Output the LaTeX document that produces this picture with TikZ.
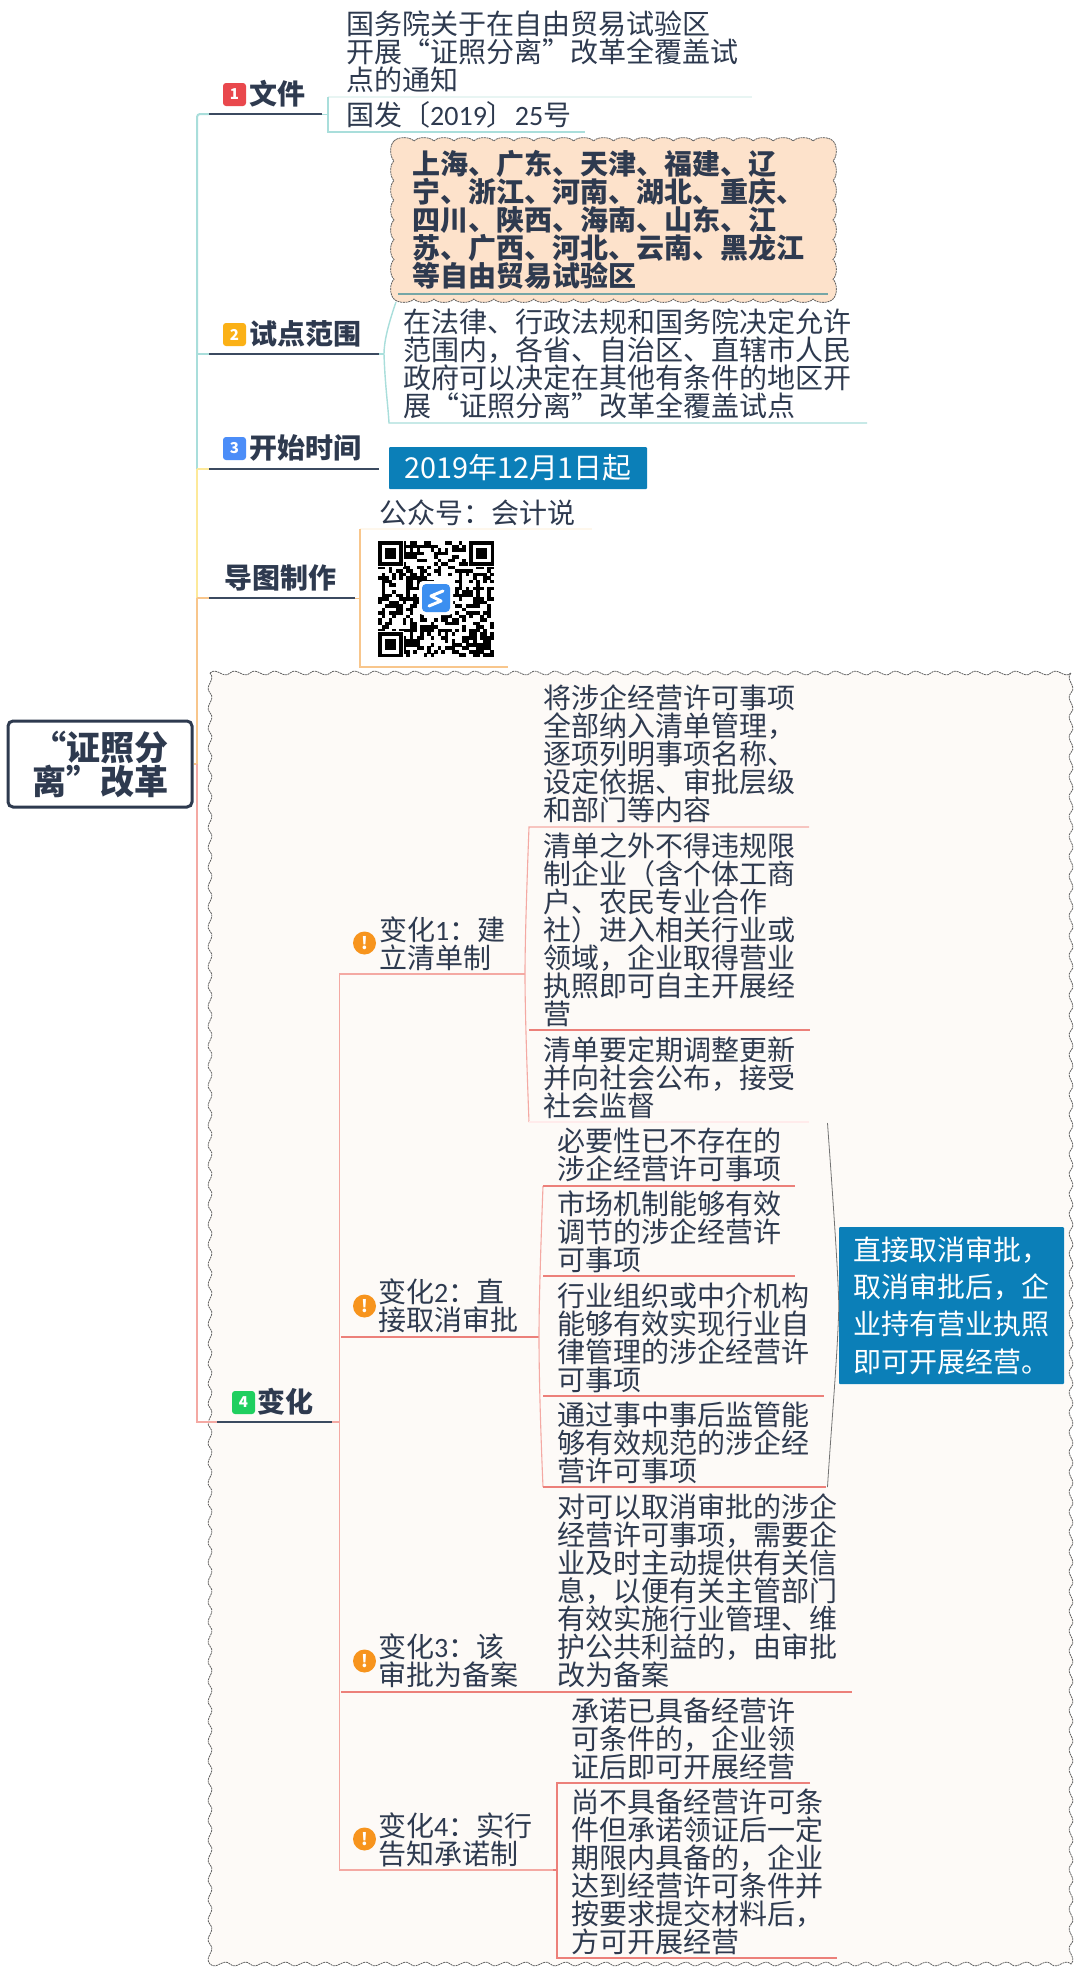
\documentclass[tikz,border=0pt]{standalone}
\usepackage{fontspec}
\setmainfont{Noto Sans CJK SC}
\newfontfamily\dg{Carlito}
\lineskiplimit=-100pt
\newcommand{\zcm}{^^^^ff0c}
\newcommand{\zcl}{^^^^ff1a}
\newcommand{\zlp}{^^^^ff08}
\newcommand{\zrp}{^^^^ff09}
\newcommand{\ml}[1]{\vtop{\halign{##\hfil\cr#1\crcr}}}
\newcommand{\mr}[1]{\vbox{\halign{\hfil##\cr#1\crcr}}}
\definecolor{ink}{HTML}{2E3A4F}
\definecolor{dark}{HTML}{3B4A60}
\definecolor{tealc}{HTML}{A9DEDB}
\definecolor{tealf}{HTML}{E8F5F3}
\definecolor{yell}{HTML}{FDE99A}
\definecolor{orng}{HTML}{F8C68C}
\definecolor{orgf}{HTML}{FEF7EC}
\definecolor{pinkc}{HTML}{F4A9A3}
\definecolor{redc}{HTML}{EC807A}
\definecolor{blueb}{HTML}{0B7FB8}
\definecolor{zonef}{HTML}{FDE2CB}
\definecolor{framef}{HTML}{FDFAF7}
\definecolor{warnc}{HTML}{F7941D}
\definecolor{ic1}{HTML}{E9484D}
\definecolor{ic2}{HTML}{FBB116}
\definecolor{ic3}{HTML}{4B8DF8}
\definecolor{ic4}{HTML}{1FCF5F}
\definecolor{logoc}{HTML}{3C8FF0}
\tikzset{
  txt/.style={anchor=base west,inner sep=0pt,text=ink,font=\fontsize{28pt}{28pt}\selectfont},
  head/.style={txt,font=\fontsize{28pt}{28pt}\selectfont\bfseries},
  uline/.style={draw=dark,line width=2.5pt},
  tl/.style={draw=tealc,line width=2pt},
  pl/.style={draw=pinkc,line width=1.6pt},
  rl/.style={draw=redc,line width=1.3pt},
  numbox/.style={rectangle,rounded corners=3pt,inner sep=0pt,minimum width=23pt,minimum height=23pt,text=white,font=\fontsize{15pt}{15pt}\selectfont\bfseries},
  warn/.style={circle,fill=warnc,inner sep=0pt,minimum size=23pt,text=white,font=\fontsize{17pt}{17pt}\selectfont\bfseries},
  bluebox/.style={rectangle,fill=blueb,inner sep=0pt,rounded corners=1pt,text=white},
  edge/.style={draw=black!62,line width=0.8pt,dash pattern=on 2pt off 0.7pt},
}
\begin{document}
\begin{tikzpicture}[x=1pt,y=-1pt]
\path[use as bounding box,fill=white] (0,0) rectangle (1080,1974);
% wavy frame
\pgfmathsetmacro{\wx}{861/43}
\pgfmathsetmacro{\wy}{1291/65}
\filldraw[edge,fill=framef] (210,673)
  \foreach \i in {1,...,43}{ .. controls ({210+(\i-1)*\wx+0.35*\wx},666.5) and ({210+(\i-1)*\wx+0.65*\wx},679.5) .. ({210+\i*\wx},673) }
  \foreach \i in {1,...,65}{ .. controls (1064.5,{673+(\i-1)*\wy+0.35*\wy}) and (1077.5,{673+(\i-1)*\wy+0.65*\wy}) .. (1071,{673+\i*\wy}) }
  \foreach \i in {1,...,43}{ .. controls ({1071-(\i-1)*\wx-0.35*\wx},1957.5) and ({1071-(\i-1)*\wx-0.65*\wx},1970.5) .. ({1071-\i*\wx},1964) }
  \foreach \i in {1,...,65}{ .. controls (203.5,{1964-(\i-1)*\wy-0.35*\wy}) and (216.5,{1964-(\i-1)*\wy-0.65*\wy}) .. (210,{1964-\i*\wy}) }
  -- cycle;
% scalloped box
\pgfmathsetmacro{\sx}{439/22}
\pgfmathsetmacro{\sy}{158/8}
\filldraw[edge,fill=zonef] (394,141)
  \foreach \i in {1,...,22}{ .. controls ({394+(\i-1)*\sx+0.2*\sx},136.5) and ({394+(\i-1)*\sx+0.8*\sx},136.5) .. ({394+\i*\sx},141) }
  \foreach \i in {1,...,8}{ .. controls (837.5,{141+(\i-1)*\sy+0.2*\sy}) and (837.5,{141+(\i-1)*\sy+0.8*\sy}) .. (833,{141+\i*\sy}) }
  \foreach \i in {1,...,22}{ .. controls ({833-(\i-1)*\sx-0.2*\sx},303.5) and ({833-(\i-1)*\sx-0.8*\sx},303.5) .. ({833-\i*\sx},299) }
  \foreach \i in {1,...,8}{ .. controls (389.5,{299-(\i-1)*\sy-0.2*\sy}) and (389.5,{299-(\i-1)*\sy-0.8*\sy}) .. (394,{299-\i*\sy}) }
  -- cycle;
% coordinates
\coordinate (s1) at (197,114);
\coordinate (s2) at (197,354);
\coordinate (s3) at (197,469);
\coordinate (s4) at (197,598);
\coordinate (sp) at (197,764);
\coordinate (s5) at (197,1422);
\coordinate (t1l) at (209,114); \coordinate (t1r) at (322,114);
\coordinate (t2l) at (209,354); \coordinate (t2r) at (379,354);
\coordinate (t3l) at (209,469); \coordinate (t3r) at (379,469);
\coordinate (t4l) at (209,598); \coordinate (t4r) at (355,598);
\coordinate (t5l) at (217,1422); \coordinate (t5r) at (332,1422);
\coordinate (b1) at (328,114);
\coordinate (b2) at (384,354);
\coordinate (b4) at (360,598);
\coordinate (b5) at (339.5,1422);
% root node
\node[rectangle,rounded corners=5pt,draw=ink,line width=3pt,fill=white,inner sep=0pt,minimum width=184pt,minimum height=86pt,text=ink,font=\fontsize{34pt}{34pt}\selectfont\bfseries] (root) at (100,764) {\raisebox{-2pt}{\mr{“证照分\cr 离”改革}}};
% spine
\draw[tl,rounded corners=3pt] (t1l) -- (s1) -- (s2);
\draw[tl] (s2) -- (t2l);
\draw[tl] (s2) -- (s3);
\draw[draw=yell,line width=2pt] (s3) -- (t3l);
\draw[draw=yell,line width=2pt] (s3) -- (s4);
\draw[draw=orng,line width=2pt] (s4) -- (t4l);
\draw[draw=orng,line width=2pt] (s4) -- (sp);
\draw[draw=orng,line width=2pt] (root.east) -- (sp);
\draw[draw=pinkc,line width=2pt] (sp) -- (s5) -- (t5l);
% topic underlines
\draw[uline] (t1l) -- (t1r);
\draw[uline] (t2l) -- (t2r);
\draw[uline] (t3l) -- (t3r);
\draw[uline] (t4l) -- (t4r);
\draw[uline] (t5l) -- (t5r);
% file branch
\coordinate (a1) at (328,97); \coordinate (a2) at (752,97);
\coordinate (a3) at (328,132); \coordinate (a4) at (585,132);
\draw[draw=tealf,line width=1.2pt] (a1) -- (a2);
\draw[draw=tealc,line width=1.4pt] (a1) -- (a3) -- (a4);
\draw[draw=tealc,line width=1pt] (t1r) -- (b1);
% scope branch
\coordinate (c1) at (396,302); \coordinate (c2) at (389,423); \coordinate (c3) at (867,423);
\coordinate (c4) at (398,294); \coordinate (c5) at (828,294);
\draw[draw=tealc,line width=1.4pt] (t2r) -- (b2);
\draw[draw=tealc,line width=1.4pt] (c1) .. controls (388,325) and (384,342) .. (b2) .. controls (385,385) and (388,405) .. (c2) -- (c3);
\draw[draw=teal!55!gray!70!white,line width=2pt] (c4) -- (c5);
% qr branch
\coordinate (q1) at (360,529); \coordinate (q2) at (592,529);
\coordinate (q3) at (360,667); \coordinate (q4) at (508,667);
\draw[draw=orng,line width=1pt] (t4r) -- (b4);
\draw[draw=orgf,line width=1.2pt] (q1) -- (q2);
\draw[draw=orng,line width=1.5pt] (q1) -- (q3) -- (q4);
% sub spine
\coordinate (v1l) at (341,974); \coordinate (v1r) at (525,974);
\coordinate (v2l) at (341,1337); \coordinate (v2r) at (539,1337);
\coordinate (v3l) at (341,1692); \coordinate (v3r) at (852,1692);
\coordinate (v4l) at (341,1870); \coordinate (v4r) at (553,1870);
\coordinate (v1t) at (339.5,974); \coordinate (v4b) at (339.5,1870);
\draw[pl] (t5r) -- (b5);
\draw[pl] (v1r) -- (v1t) -- (v4b) -- (v4r);
\draw[rl] (v2l) -- (v2r);
\draw[rl] (v3l) -- (v3r);
% change 1 children
\coordinate (d1) at (529,827); \coordinate (d1e) at (809,827);
\coordinate (d2) at (529,1030); \coordinate (d2e) at (810,1030);
\coordinate (d3) at (529,1122); \coordinate (d3e) at (809,1122);
\draw[pl,line width=1.1pt] (d1e) -- (d1) .. controls (527,880) and (525,940) .. (v1r) .. controls (525,1010) and (527,1070) .. (d3);
\draw[rl] (d2) -- (d2e);
\draw[draw=red!8!white,line width=1.2pt] (d3) -- (d3e);
% change 2 children
\coordinate (e1) at (543,1186); \coordinate (e1e) at (795,1186);
\coordinate (e2) at (543,1276); \coordinate (e2e) at (795,1276);
\coordinate (e3) at (543,1396); \coordinate (e3e) at (824,1396);
\coordinate (e4) at (543,1487); \coordinate (e4e) at (826,1487);
\draw[pl,line width=1.1pt] (e1) .. controls (541,1240) and (539,1300) .. (v2r) .. controls (539,1380) and (541,1440) .. (e4);
\draw[rl] (e1) -- (e1e);
\draw[rl] (e2) -- (e2e);
\draw[rl] (e3) -- (e3e);
\draw[rl] (e4) -- (e4e);
% change 4 children
\coordinate (f1) at (557,1783); \coordinate (f1e) at (810,1783);
\coordinate (f2) at (557,1958); \coordinate (f2e) at (837,1958);
\draw[rl] (f1e) -- (f1) -- (f2) -- (f2e);
\draw[rl] (v4r) -- ++(4,0);
% icons
\node[numbox,fill=ic1] (n1) at (234.5,94.5) {1};
\node[numbox,fill=ic2] (n2) at (234.5,334.5) {2};
\node[numbox,fill=ic3] (n3) at (234.5,448.5) {3};
\node[numbox,fill=ic4] (n4) at (243.5,1402.5) {4};
\node[warn] (w1) at (364.5,943) {!};
\node[warn] (w2) at (364.5,1306) {!};
\node[warn] (w3) at (364.5,1661) {!};
\node[warn] (w4) at (364.5,1839) {!};
% headings
\node[head] (h1) at (249,104.6) {文件};
\node[head] (h2) at (249,344.6) {试点范围};
\node[head] (h3) at (249,458.6) {开始时间};
\node[head] (h4) at (224,588.6) {导图制作};
\node[head] (h5) at (257.5,1412.6) {变化};
% file texts
\node[txt] (x1) at (346,34.6) {\ml{国务院关于在自由贸易试验区\cr 开展“证照分离”改革全覆盖试\cr 点的通知}};
\node[txt] (x2) at (346,125.6) {国发〔{\dg 2019}〕{\dg 25}号};
% scope texts
\node[head] (x3) at (412,174.6) {\ml{上海、广东、天津、福建、辽\cr 宁、浙江、河南、湖北、重庆、\cr 四川、陕西、海南、山东、江\cr 苏、广西、河北、云南、黑龙江\cr 等自由贸易试验区}};
\node[txt] (x4) at (403,332.6) {\ml{在法律、行政法规和国务院决定允许\cr 范围内\zcm 各省、自治区、直辖市人民\cr 政府可以决定在其他有条件的地区开\cr 展“证照分离”改革全覆盖试点}};
% date
\node[bluebox,minimum width=258pt,minimum height=42pt,font=\fontsize{28.8pt}{28.8pt}\selectfont] (date) at (518,468) {2019年12月1日起};
% qr
\node[txt] (x5) at (379,523.6) {公众号\zcl 会计说};
\pgfmathsetseed{20191201}
\foreach \r in {0,...,32}{\foreach \c in {0,...,32}{
  \pgfmathtruncatemacro{\bitv}{rnd<0.52?1:0}
  \ifnum\bitv=1 \fill[black] ({378+\c*3.515},{541+\r*3.515}) rectangle ++(3.6,3.6);\fi
}}
\foreach \fx/\fy in {378/541,469.4/541,378/632.4}{
  \fill[white] ({\fx-1.5},{\fy-1.5}) rectangle ++(27.6,27.6);
  \fill[black] (\fx,\fy) rectangle ++(24.6,24.6);
  \fill[white] ({\fx+3.5},{\fy+3.5}) rectangle ++(17.6,17.6);
  \fill[black] ({\fx+7},{\fy+7}) rectangle ++(10.6,10.6);
}
\fill[white,rounded corners=4pt] (419,581) rectangle (453,615);
\fill[logoc,rounded corners=4pt] (422,584) rectangle (450,612);
\draw[white,line width=3pt,line cap=round,line join=round] (443,591) -- (431,596) -- (441,601) -- (429,606);
% change 1
\node[txt] (g1) at (379,940.6) {\ml{变化{\dg 1}\zcl 建\cr 立清单制}};
\node[txt] (g11) at (543,708.6) {\ml{将涉企经营许可事项\cr 全部纳入清单管理\zcm\cr 逐项列明事项名称、\cr 设定依据、审批层级\cr 和部门等内容}};
\node[txt] (g12) at (543,856.6) {\ml{清单之外不得违规限\cr 制企业\zlp 含个体工商\cr 户、农民专业合作\cr 社\zrp 进入相关行业或\cr 领域\zcm 企业取得营业\cr 执照即可自主开展经\cr 营}};
\node[txt] (g13) at (543,1060.6) {\ml{清单要定期调整更新\cr 并向社会公布\zcm 接受\cr 社会监督}};
% change 2
\node[txt] (g2) at (378,1302.6) {\ml{变化{\dg 2}\zcl 直\cr 接取消审批}};
\node[txt] (g21) at (557,1151.6) {\ml{必要性已不存在的\cr 涉企经营许可事项}};
\node[txt] (g22) at (557,1214.6) {\ml{市场机制能够有效\cr 调节的涉企经营许\cr 可事项}};
\node[txt] (g23) at (557,1306.6) {\ml{行业组织或中介机构\cr 能够有效实现行业自\cr 律管理的涉企经营许\cr 可事项}};
\node[txt] (g24) at (557,1425.6) {\ml{通过事中事后监管能\cr 够有效规范的涉企经\cr 营许可事项}};
\node[bluebox,minimum width=225pt,minimum height=157pt,font=\fontsize{28pt}{37.3pt}\selectfont] (note) at (951.5,1305.5) {\ml{直接取消审批\zcm\cr 取消审批后\zcm 企\cr 业持有营业执照\cr 即可开展经营。}};
\coordinate (br1) at (827.5,1123); \coordinate (br2) at (827.5,1487);
\draw[draw=black!55,line width=0.8pt] (br1) .. controls (833,1200) and (838,1270) .. (note.west) .. controls (838,1350) and (831,1430) .. (br2);
% change 3
\node[txt] (g3) at (378,1657.6) {\ml{变化{\dg 3}\zcl 该\cr 审批为备案}};
\node[txt] (g31) at (557,1517.6) {\ml{对可以取消审批的涉企\cr 经营许可事项\zcm 需要企\cr 业及时主动提供有关信\cr 息\zcm 以便有关主管部门\cr 有效实施行业管理、维\cr 护公共利益的\zcm 由审批\cr 改为备案}};
% change 4
\node[txt] (g4) at (378,1836.6) {\ml{变化{\dg 4}\zcl 实行\cr 告知承诺制}};
\node[txt] (g41) at (571,1721.6) {\ml{承诺已具备经营许\cr 可条件的\zcm 企业领\cr 证后即可开展经营}};
\node[txt] (g42) at (571,1812.6) {\ml{尚不具备经营许可条\cr 件但承诺领证后一定\cr 期限内具备的\zcm 企业\cr 达到经营许可条件并\cr 按要求提交材料后\zcm\cr 方可开展经营}};
\end{tikzpicture}
\end{document}
